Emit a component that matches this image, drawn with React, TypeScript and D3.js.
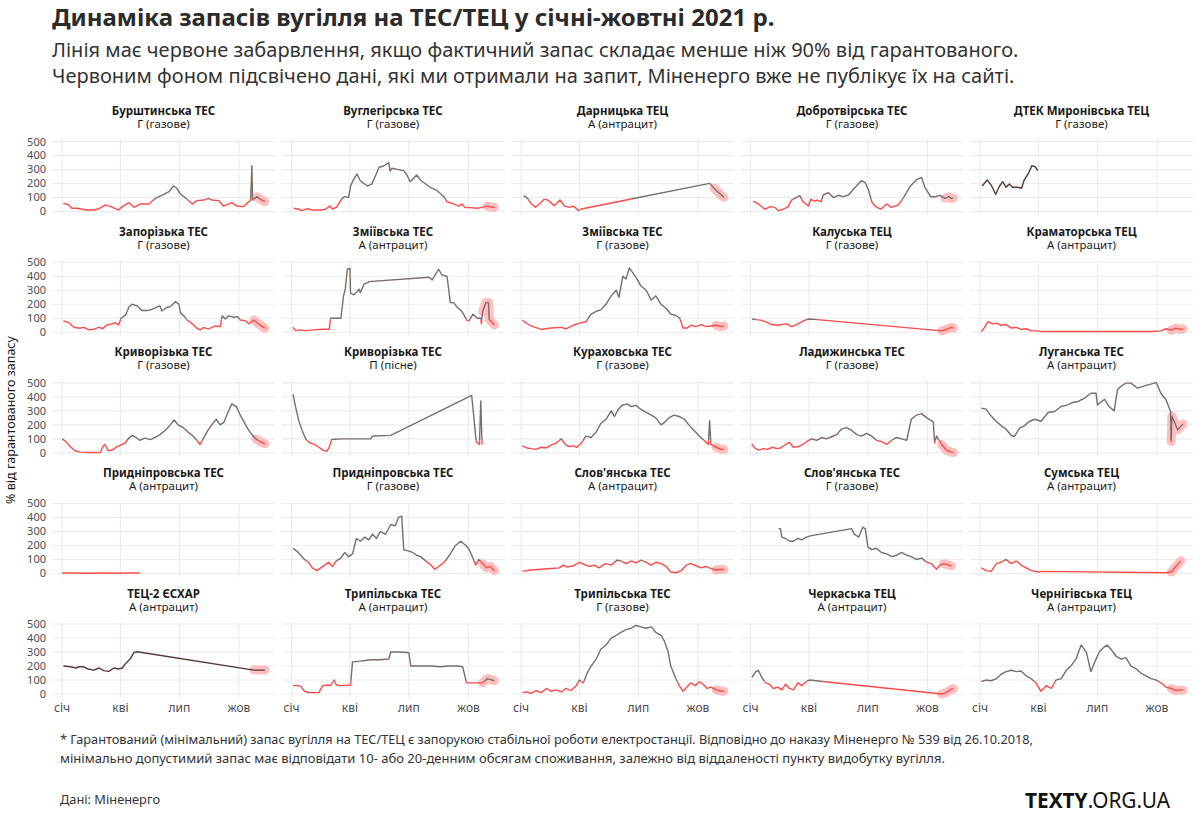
import * as d3 from 'd3';

// station names and coal grade, in panel order (row by row)
const stationNames = [
  'Бурштинська ТЕС', 'Вуглегірська ТЕС', 'Дарницька ТЕЦ', 'Добротвірська ТЕС', 'ДТЕК Миронівська ТЕЦ',
  'Запорізька ТЕС', 'Зміївська ТЕС', 'Зміївська ТЕС', 'Калуська ТЕЦ', 'Краматорська ТЕЦ',
  'Криворізька ТЕС', 'Криворізька ТЕС', 'Кураховська ТЕС', 'Ладижинська ТЕС', 'Луганська ТЕС',
  'Придніпровська ТЕС', 'Придніпровська ТЕС', "Слов'янська ТЕС", "Слов'янська ТЕС", 'Сумська ТЕЦ',
  'ТЕЦ-2 ЄСХАР', 'Трипільська ТЕС', 'Трипільська ТЕС', 'Черкаська ТЕЦ', 'Чернігівська ТЕЦ',
];
const coalTypes = [
  'Г (газове)', 'Г (газове)', 'А (антрацит)', 'Г (газове)', 'Г (газове)',
  'Г (газове)', 'А (антрацит)', 'Г (газове)', 'Г (газове)', 'А (антрацит)',
  'Г (газове)', 'П (пісне)', 'Г (газове)', 'Г (газове)', 'А (антрацит)',
  'А (антрацит)', 'Г (газове)', 'А (антрацит)', 'Г (газове)', 'А (антрацит)',
  'А (антрацит)', 'А (антрацит)', 'Г (газове)', 'А (антрацит)', 'А (антрацит)',
];

// [day since 1 Jan 2021, % of guaranteed stock]
const burshtynska: [number, number][] = [
  [2, 60], [10, 48], [15, 24], [23, 24], [31, 17], [38, 12], [49, 12], [57, 21], [67, 48], [75, 36],
  [87, 12], [93, 36], [103, 64], [111, 31], [121, 55], [134, 55], [144, 95], [157, 124], [165, 143],
  [172, 183], [177, 167], [183, 124], [190, 100], [201, 55], [208, 79], [219, 83], [226, 95], [231, 83],
  [242, 79], [249, 40], [262, 64], [270, 40], [280, 36], [291, 83], [293, 329], [294, 83], [301, 107],
  [306, 88], [313, 71],
];
const vuhlehirska: [number, number][] = [
  [3, 24], [11, 17], [16, 7], [24, 21], [32, 12], [45, 12], [52, 17], [59, 40], [63, 19], [69, 31],
  [76, 83], [81, 107], [88, 102], [91, 183], [95, 226], [101, 269], [106, 221], [117, 183], [124, 198],
  [135, 317], [142, 326], [150, 350], [152, 290], [155, 310], [163, 302], [173, 293], [178, 262],
  [183, 214], [193, 262], [199, 226], [207, 198], [214, 174], [225, 150], [235, 107], [240, 71],
  [250, 55], [258, 40], [263, 55], [268, 29], [276, 29], [287, 24], [294, 31], [302, 40], [310, 31],
  [313, 31],
];
const darnytska: [number, number][] = [
  [4, 114], [10, 95], [15, 60], [22, 31], [28, 55], [36, 90], [41, 83], [51, 43], [60, 83], [67, 40],
  [75, 31], [80, 40], [85, 24], [88, 7], [93, 19], [291, 202], [298, 167], [306, 131], [313, 102],
];
const dobrotvirska: [number, number][] = [
  [4, 76], [12, 55], [22, 17], [30, 36], [37, 31], [43, 7], [50, 17], [58, 36], [63, 83], [71, 102],
  [76, 114], [81, 71], [89, 40], [93, 88], [99, 76], [103, 83], [109, 71], [112, 119], [120, 136],
  [128, 100], [135, 117], [143, 107], [151, 119], [160, 167], [171, 221], [177, 207], [182, 155],
  [187, 71], [192, 40], [201, 17], [210, 55], [217, 31], [228, 48], [236, 100], [246, 179], [257, 231],
  [264, 245], [269, 174], [278, 107], [286, 107], [292, 117], [300, 95], [306, 107], [310, 93], [313, 98],
];
const myronivska: [number, number][] = [
  [3, 183], [11, 226], [17, 190], [24, 124], [30, 183], [35, 214], [40, 174], [45, 198], [50, 174],
  [58, 174], [64, 167], [68, 226], [74, 269], [80, 329], [85, 321], [89, 293],
];
const zaporizka: [number, number][] = [
  [2, 81], [10, 69], [18, 36], [28, 29], [33, 36], [41, 17], [49, 21], [57, 36], [62, 24], [69, 52],
  [77, 60], [82, 69], [87, 52], [91, 100], [98, 124], [103, 179], [108, 200], [116, 188], [123, 155],
  [131, 155], [139, 164], [146, 179], [151, 188], [154, 152], [162, 179], [167, 183], [175, 219],
  [180, 202], [183, 136], [188, 117], [193, 88], [201, 60], [208, 29], [213, 17], [218, 33], [226, 24],
  [237, 45], [244, 40], [247, 117], [252, 95], [257, 117], [265, 107], [271, 112], [275, 88], [283, 83],
  [288, 60], [296, 88], [303, 60], [313, 29],
];
const zmiivskaA: [number, number][] = [
  [2, 36], [6, 12], [14, 17], [22, 12], [34, 17], [47, 21], [58, 21], [60, 100], [76, 100], [80, 255],
  [83, 314], [86, 450], [90, 457], [91, 279], [96, 267], [104, 307], [106, 283], [112, 345], [118, 355],
  [119, 362], [212, 393], [217, 374], [227, 450], [232, 410], [240, 398], [245, 212], [250, 212],
  [255, 183], [263, 148], [271, 83], [274, 83], [280, 129], [287, 100], [292, 100], [293, 60], [295, 148],
  [300, 212], [304, 212], [305, 93], [313, 52],
];
const zmiivskaG: [number, number][] = [
  [2, 85], [15, 45], [31, 20], [46, 30], [62, 35], [69, 25], [80, 50], [90, 65], [100, 75], [108, 130],
  [116, 150], [123, 160], [131, 200], [139, 260], [147, 300], [151, 250], [157, 400], [162, 380],
  [167, 460], [173, 420], [179, 380], [185, 330], [193, 300], [201, 230], [208, 260], [216, 200],
  [224, 170], [231, 130], [239, 120], [245, 100], [250, 30], [256, 30], [262, 50], [270, 40], [278, 55],
  [285, 40], [293, 45], [301, 50], [308, 40], [313, 45],
];
const kaluska: [number, number][] = [
  [2, 95], [9, 90], [17, 85], [25, 70], [32, 55], [40, 50], [48, 55], [56, 60], [63, 40], [71, 55],
  [79, 75], [86, 90], [91, 95], [295, 10], [302, 20], [310, 35], [313, 30],
];
const kramatorska: [number, number][] = [
  [2, 5], [6, 30], [12, 75], [20, 60], [25, 65], [32, 50], [40, 55], [48, 30], [56, 35], [63, 20],
  [71, 25], [79, 10], [90, 10], [94, 5], [264, 5], [279, 10], [287, 25], [295, 15], [302, 30], [310, 20],
  [313, 25],
];
const kryvorizkaG: [number, number][] = [
  [0, 100], [6, 80], [12, 45], [20, 15], [28, 5], [43, 3], [59, 2], [63, 45], [66, 60], [71, 15],
  [77, 20], [85, 45], [90, 55], [97, 70], [102, 100], [108, 125], [114, 110], [120, 90], [128, 105],
  [136, 95], [144, 110], [151, 130], [159, 160], [167, 200], [173, 235], [179, 200], [187, 180],
  [194, 150], [202, 120], [208, 90], [213, 60], [219, 110], [225, 160], [231, 200], [238, 240],
  [244, 200], [250, 220], [256, 290], [262, 350], [269, 330], [275, 270], [281, 220], [287, 170],
  [293, 130], [299, 100], [306, 80], [313, 65],
];
const kryvorizkaP: [number, number][] = [
  [2, 420], [6, 330], [11, 230], [17, 150], [23, 90], [29, 70], [35, 60], [42, 40], [48, 20], [54, 10],
  [57, 30], [62, 95], [76, 100], [122, 100], [125, 120], [153, 125], [278, 410], [285, 80], [290, 60],
  [292, 370], [294, 60],
];
const kurakhivska: [number, number][] = [
  [2, 50], [9, 35], [15, 30], [23, 25], [31, 40], [39, 35], [46, 55], [54, 70], [62, 100], [68, 60],
  [74, 45], [80, 50], [86, 40], [93, 70], [100, 120], [108, 110], [116, 150], [123, 210], [131, 240],
  [139, 300], [144, 260], [150, 310], [156, 340], [164, 350], [170, 330], [177, 340], [185, 310],
  [193, 290], [201, 270], [208, 250], [216, 200], [222, 220], [228, 250], [236, 270], [244, 260],
  [252, 240], [259, 200], [267, 160], [275, 120], [282, 90], [289, 60], [291, 230], [293, 60], [301, 40],
  [309, 25], [313, 25],
];
const ladyzhynska: [number, number][] = [
  [2, 65], [6, 35], [12, 20], [20, 30], [26, 25], [34, 40], [40, 30], [46, 35], [54, 60], [60, 75],
  [66, 40], [74, 45], [82, 65], [88, 85], [94, 100], [102, 90], [110, 110], [117, 100], [125, 115],
  [133, 130], [140, 170], [148, 180], [156, 160], [164, 130], [171, 120], [179, 140], [187, 120],
  [194, 90], [202, 80], [210, 60], [218, 90], [225, 110], [233, 100], [241, 90], [248, 240], [256, 270],
  [264, 280], [272, 250], [279, 230], [282, 220], [284, 70], [287, 120], [295, 60], [302, 20], [310, 5],
  [313, 3],
];
const luhanska: [number, number][] = [
  [2, 319], [9, 312], [17, 264], [25, 224], [33, 193], [40, 169], [48, 124], [53, 117], [61, 176],
  [68, 193], [76, 224], [84, 240], [94, 226], [105, 288], [115, 295], [125, 331], [135, 343], [143, 360],
  [151, 367], [161, 390], [171, 426], [179, 426], [181, 343], [192, 383], [199, 331], [207, 300],
  [212, 450], [217, 474], [225, 498], [233, 498], [243, 462], [259, 486], [272, 502], [279, 426],
  [287, 379], [294, 295], [295, 81], [296, 264], [305, 164], [313, 207],
];
const prydniprovskaA: [number, number][] = [
  [0, 3], [20, 3], [40, 2], [60, 3], [80, 2], [100, 3], [120, 3],
];
const prydniprovskaG: [number, number][] = [
  [2, 180], [8, 160], [14, 130], [20, 100], [26, 80], [32, 40], [39, 20], [45, 40], [51, 60], [57, 80],
  [63, 50], [69, 90], [76, 110], [82, 150], [88, 120], [94, 140], [100, 250], [106, 230], [113, 260],
  [119, 240], [125, 280], [131, 250], [137, 300], [145, 280], [153, 350], [160, 340], [165, 400],
  [170, 410], [173, 170], [181, 160], [187, 150], [193, 130], [199, 120], [207, 90], [215, 60], [221, 30],
  [227, 50], [233, 70], [239, 100], [245, 140], [253, 200], [261, 230], [269, 200], [273, 180],
  [279, 120], [284, 60], [289, 100], [295, 70], [301, 40], [307, 50], [313, 20],
];
const slovianskaA: [number, number][] = [
  [2, 15], [15, 25], [31, 30], [46, 35], [59, 40], [65, 60], [71, 45], [80, 55], [90, 80], [97, 65],
  [105, 50], [113, 60], [120, 40], [130, 70], [139, 60], [148, 95], [154, 90], [162, 70], [170, 90],
  [177, 75], [185, 95], [193, 80], [201, 60], [208, 80], [216, 70], [224, 50], [231, 10], [239, 5],
  [247, 20], [255, 60], [262, 70], [270, 55], [278, 40], [285, 50], [293, 35], [301, 25], [309, 30],
  [313, 28],
];
const slovianskaG: [number, number][] = [
  [43, 320], [46, 320], [48, 260], [54, 250], [60, 230], [66, 230], [73, 250], [79, 240], [86, 260],
  [94, 270], [156, 320], [160, 280], [167, 260], [173, 330], [177, 320], [181, 190], [187, 170],
  [194, 180], [202, 150], [210, 140], [218, 120], [225, 130], [233, 150], [241, 130], [248, 120],
  [256, 100], [264, 110], [272, 80], [279, 70], [287, 30], [292, 60], [298, 70], [306, 60], [310, 55],
];
const sumska: [number, number][] = [
  [2, 40], [9, 20], [17, 15], [25, 70], [32, 80], [40, 100], [48, 70], [56, 90], [63, 60], [71, 40],
  [79, 20], [90, 10], [94, 15], [287, 5], [295, 10], [302, 50], [310, 90],
];
const kharkivTec2: [number, number][] = [
  [2, 200], [13, 195], [21, 186], [26, 195], [33, 195], [40, 179], [49, 171], [57, 186], [64, 167],
  [72, 162], [80, 186], [87, 179], [93, 186], [98, 219], [105, 250], [111, 298], [116, 302], [296, 171],
  [313, 171],
];
const trypilskaA: [number, number][] = [
  [2, 60], [8, 60], [14, 55], [20, 20], [26, 10], [34, 10], [42, 10], [48, 60], [56, 65], [60, 60],
  [66, 100], [69, 65], [76, 60], [91, 65], [94, 230], [106, 235], [122, 245], [137, 245], [150, 250],
  [153, 300], [168, 300], [181, 295], [184, 200], [199, 200], [215, 200], [230, 195], [241, 200],
  [255, 200], [264, 195], [270, 80], [276, 80], [295, 80], [302, 110], [310, 100], [313, 95],
];
const trypilskaG: [number, number][] = [
  [2, 10], [9, 15], [15, 5], [23, 25], [31, 10], [39, 40], [46, 20], [54, 30], [62, 15], [69, 40],
  [77, 25], [85, 60], [90, 100], [96, 80], [102, 150], [108, 200], [116, 250], [123, 320], [131, 350],
  [139, 400], [147, 420], [154, 440], [162, 460], [170, 470], [177, 490], [185, 480], [193, 470],
  [201, 480], [208, 440], [216, 420], [221, 380], [227, 300], [231, 200], [238, 120], [244, 60],
  [250, 20], [256, 50], [262, 80], [269, 60], [275, 90], [281, 70], [287, 40], [293, 50], [301, 30],
  [309, 20], [313, 20],
];
const cherkaska: [number, number][] = [
  [2, 120], [8, 160], [12, 170], [17, 120], [23, 80], [29, 70], [35, 40], [42, 50], [48, 30], [54, 70],
  [60, 40], [66, 30], [73, 80], [79, 60], [86, 90], [91, 100], [295, 0], [302, 10], [310, 35],
  [313, 40],
];
const chernihivska: [number, number][] = [
  [2, 90], [9, 100], [17, 95], [25, 110], [32, 140], [40, 160], [48, 170], [56, 160], [63, 165],
  [71, 130], [79, 110], [86, 80], [94, 20], [102, 60], [110, 40], [117, 100], [125, 110], [133, 170],
  [140, 200], [148, 250], [156, 350], [164, 300], [168, 220], [171, 160], [177, 230], [184, 300],
  [190, 330], [196, 350], [202, 320], [210, 270], [218, 250], [225, 260], [233, 200], [241, 180],
  [248, 150], [256, 130], [264, 110], [272, 100], [279, 80], [287, 50], [295, 40], [302, 25], [310, 30],
  [313, 28],
];

const allSeries = [
  burshtynska, vuhlehirska, darnytska, dobrotvirska, myronivska,
  zaporizka, zmiivskaA, zmiivskaG, kaluska, kramatorska,
  kryvorizkaG, kryvorizkaP, kurakhivska, ladyzhynska, luhanska,
  prydniprovskaA, prydniprovskaG, slovianskaA, slovianskaG, sumska,
  kharkivTec2, trypilskaA, trypilskaG, cherkaska, chernihivska,
];
// stations whose line is drawn in the darker tone
const darkStations = [4, 20];

const yTicks = [0, 100, 200, 300, 400, 500];
const monthLabels = ['січ', 'кві', 'лип', 'жов'];
const threshold = 90; // below 90% of guaranteed -> red
const requestFrom = 295; // data received on request from this day

const dayMs = 864e5;
const start = new Date(2021, 0, 1);
const lastDay = 313;
const toDate = (d: number) => new Date(+start + d * dayMs);

const W = 1200;
const H = 824;
const left0 = 52;
const top0 = 139.7;
const panelW = 223;
const colStep = 229.5;
const rowStep = 120.6;
const yMin = -24.5;
const yMax = 514;
const panelH = (yMax - yMin) * 0.14;

const pad = lastDay * 0.05;
const x = d3.scaleTime().domain([toDate(-pad), toDate(lastDay + pad)]).range([0, panelW]);
const y = d3.scaleLinear().domain([yMin, yMax]).range([panelH, 0]);
const monthTicks = d3.timeMonth.every(3)!.range(start, toDate(lastDay));

const line = d3
  .line<[number, number]>()
  .x(d => x(toDate(d[0])))
  .y(d => y(d[1]));

// split a series into runs below / above threshold, cutting at the crossing
function splitRuns(pts: [number, number][]) {
  const runs: { low: boolean; pts: [number, number][] }[] = [];
  if (!pts.length) return runs;
  let cur = { low: pts[0][1] < threshold, pts: [pts[0]] as [number, number][] };
  for (let i = 1; i < pts.length; i++) {
    const a = pts[i - 1];
    const b = pts[i];
    const lowB = b[1] < threshold;
    if (lowB === cur.low) {
      cur.pts.push(b);
    } else {
      const c = a[0] + ((threshold - a[1]) / (b[1] - a[1])) * (b[0] - a[0]);
      cur.pts.push([c, threshold]);
      runs.push(cur);
      cur = { low: lowB, pts: [[c, threshold], b] };
    }
  }
  runs.push(cur);
  return runs;
}

const font = "'Noto Sans', 'DejaVu Sans', sans-serif";

function Panel({ idx }: { idx: number }) {
  const col = idx % 5;
  const row = Math.floor(idx / 5);
  const data = allSeries[idx];
  const runs = splitRuns(data);
  const req = data.filter(d => d[0] >= requestFrom);
  const dark = darkStations.includes(idx);
  return (
    <g transform={`translate(${left0 + col * colStep},${top0 + row * rowStep})`}>
      <text x={panelW / 2} y={-24.5} textAnchor="middle" fontSize={11.5} fontWeight="bold" fill="#1a1a1a">
        {stationNames[idx]}
      </text>
      <text x={panelW / 2} y={-11.5} textAnchor="middle" fontSize={11.5} fill="#1a1a1a">
        {coalTypes[idx]}
      </text>
      {yTicks.map(t => (
        <line key={'h' + t} x1={0} x2={panelW} y1={y(t)} y2={y(t)} stroke="#ebebeb" strokeWidth={1.1} />
      ))}
      {monthTicks.map(m => (
        <line key={'v' + +m} x1={x(m)} x2={x(m)} y1={0} y2={panelH} stroke="#ebebeb" strokeWidth={1.1} />
      ))}
      {req.length > 1 && (
        <path
          d={line(req) || ''}
          fill="none"
          stroke="#ffb4b4"
          strokeOpacity={0.85}
          strokeWidth={9}
          strokeLinecap="round"
          strokeLinejoin="round"
        />
      )}
      {runs.map((r, i) => (
        <path
          key={i}
          d={line(r.pts) || ''}
          fill="none"
          stroke={r.low ? '#ff4a4a' : dark ? '#553a3a' : '#7a6c6c'}
          strokeWidth={1.4}
          strokeLinejoin="round"
        />
      ))}
      {col === 0 &&
        yTicks.map(t => (
          <text key={'yl' + t} x={-6} y={y(t)} dy="0.35em" textAnchor="end" fontSize={11} fill="#4d4d4d">
            {t}
          </text>
        ))}
      {row === 4 &&
        monthTicks.map((m, i) => (
          <text key={'xl' + i} x={x(m)} y={panelH + 15} textAnchor="middle" fontSize={12} fill="#4d4d4d">
            {monthLabels[i]}
          </text>
        ))}
    </g>
  );
}

export default function App() {
  return (
    <svg
      width={W}
      height={H}
      viewBox={`0 0 ${W} ${H}`}
      style={{ position: 'absolute', left: 0, top: 0, background: '#fff' }}
      fontFamily={font}
    >
      <rect width={W} height={H} fill="#fff" />
      <text x={52} y={26} fontSize={24} fontWeight="bold" fill="#2b2b2b">
        Динаміка запасів вугілля на ТЕС/ТЕЦ у січні-жовтні 2021 р.
      </text>
      <text x={52} y={57} fontSize={20} fill="#333">
        Лінія має червоне забарвлення, якщо фактичний запас складає менше ніж 90% від гарантованого.
      </text>
      <text x={52} y={83} fontSize={20} fill="#333">
        Червоним фоном підсвічено дані, які ми отримали на запит, Міненерго вже не публікує їх на сайті.
      </text>
      <text transform="translate(15,420) rotate(-90)" textAnchor="middle" fontSize={12.5} fill="#1a1a1a">
        % від гарантованого запасу
      </text>
      {allSeries.map((_, i) => (
        <Panel key={i} idx={i} />
      ))}
      <text x={60} y={744} fontSize={13} fill="#333" textLength={973} lengthAdjust="spacingAndGlyphs">
        * Гарантований (мінімальний) запас вугілля на ТЕС/ТЕЦ є запорукою стабільної роботи електростанції. Відповідно до наказу Міненерго № 539 від 26.10.2018,
      </text>
      <text x={60} y={763} fontSize={13} fill="#333" textLength={885} lengthAdjust="spacingAndGlyphs">
        мінімально допустимий запас має відповідати 10- або 20-денним обсягам споживання, залежно від віддаленості пункту видобутку вугілля.
      </text>
      <text x={60} y={804} fontSize={12.5} fill="#333" textLength={100} lengthAdjust="spacingAndGlyphs">
        Дані: Міненерго
      </text>
      <text x={1170} y={808} fontSize={22} textAnchor="end" fill="#111" textLength={145} lengthAdjust="spacingAndGlyphs">
        <tspan fontWeight="bold">TEXTY</tspan>
        <tspan>.ORG.UA</tspan>
      </text>
    </svg>
  );
}
